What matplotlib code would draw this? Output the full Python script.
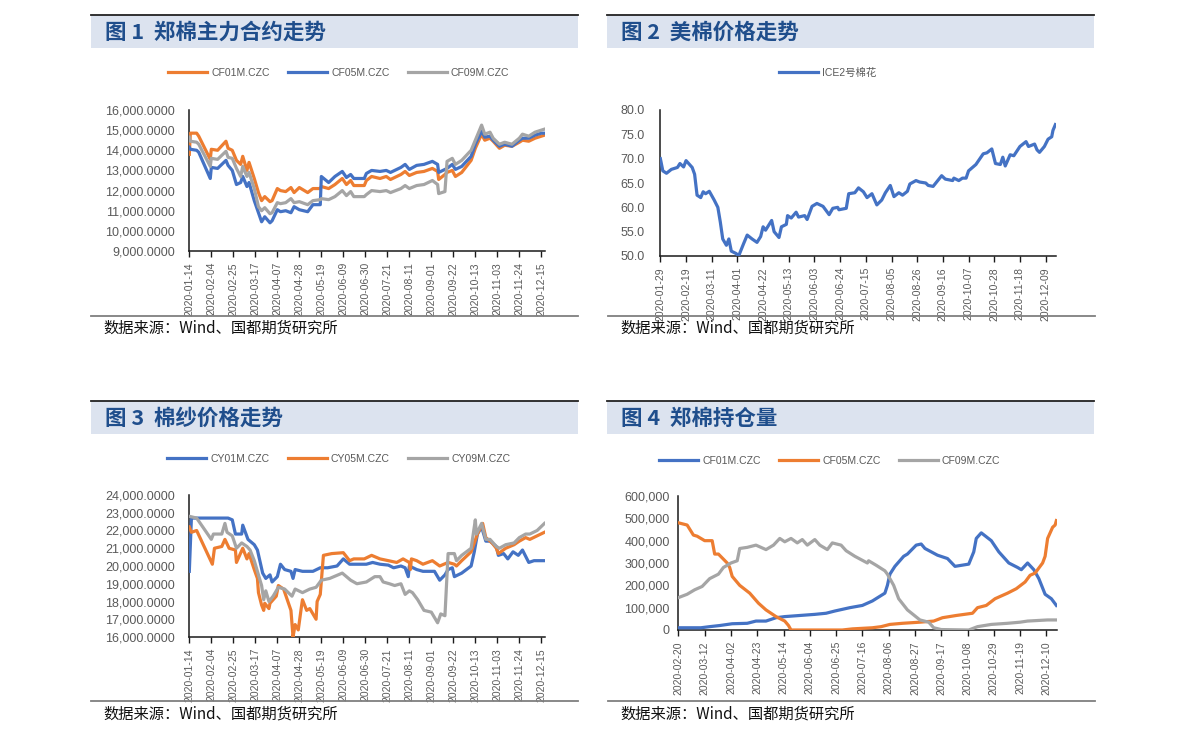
import matplotlib
matplotlib.use("Agg")
import matplotlib.pyplot as plt
import matplotlib.dates as mdates
from matplotlib.patches import Rectangle
from matplotlib.lines import Line2D
from matplotlib.ticker import FuncFormatter, MultipleLocator
import pandas as pd

# ---------------- data ----------------
# 图1 郑棉主力合约 (shared dates)
p1_dates = ["01-14", "01-15", "01-21", "01-23", "02-03", "02-04", "02-10", "02-18", "02-20", "02-24",
            "02-28", "03-03", "03-05", "03-09", "03-11", "03-16", "03-20", "03-23", "03-26", "03-31",
            "04-02", "04-07", "04-10", "04-15", "04-20", "04-23", "04-28", "05-06", "05-11", "05-18",
            "05-19", "05-26", "06-01", "06-08", "06-12", "06-16", "06-19", "06-29", "07-01", "07-06",
            "07-14", "07-20", "07-24", "08-03", "08-07", "08-11", "08-18", "08-25", "09-02", "09-07",
            "09-08", "09-14", "09-16", "09-21", "09-24", "09-30", "10-09", "10-13", "10-19", "10-22",
            "10-27", "10-30", "11-05", "11-10", "11-17", "11-24", "11-27", "12-03", "12-09", "12-15",
            "12-18"]
cf01 = [13800, 14850, 14850, 14700, 13550, 14050, 14000, 14450, 14100, 14000,
        13500, 13300, 13700, 13000, 13400, 12600, 11900, 11500, 11700, 11450,
        11500, 12100, 12000, 11950, 12150, 11900, 12150, 11900, 12100, 12100,
        12200, 12100, 12300, 12600, 12300, 12500, 12250, 12250, 12500, 12700,
        12600, 12700, 12550, 12800, 12950, 12750, 12900, 12950, 13100, 12950,
        12550, 12800, 12900, 13000, 12700, 12900, 13500, 14100, 14800, 14500,
        14600, 14450, 14100, 14250, 14200, 14400, 14500, 14450, 14600, 14700,
        14750]
cf05 = [14150, 14050, 14000, 13900, 12600, 13150, 13100, 13500, 13250, 13000,
        12300, 12400, 12700, 12200, 12400, 11500, 10900, 10450, 10700, 10400,
        10500, 11050, 10950, 11000, 10900, 11200, 11050, 10950, 11300, 11300,
        12700, 12400, 12700, 12950, 12650, 12800, 12600, 12600, 12850, 13000,
        12950, 13000, 12900, 13150, 13300, 13050, 13250, 13300, 13450, 13300,
        12900, 13050, 13100, 13300, 13050, 13200, 13700, 14300, 14950, 14650,
        14700, 14500, 14200, 14300, 14200, 14500, 14600, 14600, 14750, 14850,
        14850]
cf09 = [14650, 14450, 14400, 14300, 13200, 13600, 13550, 13950, 13650, 13600,
        13100, 12700, 13200, 12700, 12900, 12100, 11200, 11000, 11150, 10850,
        10900, 11400, 11350, 11400, 11600, 11400, 11450, 11300, 11500, 11550,
        11600, 11550, 11700, 12000, 11750, 11950, 11700, 11700, 11800, 12000,
        11950, 12000, 11900, 12100, 12250, 12100, 12250, 12300, 12500, 12300,
        11850, 11950, 13450, 13600, 13300, 13500, 14000, 14500, 15250, 14800,
        14900, 14600, 14300, 14400, 14300, 14600, 14800, 14700, 14900, 15000,
        15050]

# 图2 ICE2号棉花
ice_dates = ["01-29", "01-31", "02-03", "02-07", "02-12", "02-14", "02-17", "02-19", "02-24", "02-26",
             "02-28", "03-02", "03-04", "03-06", "03-09", "03-13", "03-16", "03-18", "03-20", "03-23",
             "03-25", "03-27", "03-31", "04-02", "04-06", "04-09", "04-13", "04-17", "04-20", "04-22",
             "04-24", "04-29", "05-01", "05-05", "05-07", "05-11", "05-12", "05-15", "05-19", "05-21",
             "05-26", "05-28", "06-01", "06-05", "06-10", "06-15", "06-18", "06-22", "06-23", "06-29",
             "07-01", "07-06", "07-09", "07-13", "07-16", "07-20", "07-24", "07-28", "07-31", "08-04",
             "08-07", "08-11", "08-14", "08-18", "08-20", "08-25", "08-28", "09-02", "09-04", "09-08",
             "09-15", "09-18", "09-24", "09-25", "09-29", "10-02", "10-05", "10-07", "10-13", "10-19",
             "10-22", "10-26", "10-29", "11-02", "11-04", "11-06", "11-10", "11-13", "11-18", "11-23",
             "11-25", "11-30", "12-02", "12-04", "12-08", "12-11", "12-14", "12-15", "12-17"]
ice_vals = [70.0, 67.5, 67.0, 67.8, 68.2, 69.0, 68.3, 69.6, 68.2, 66.8,
            62.5, 62.0, 63.2, 62.8, 63.3, 61.5, 60.0, 57.0, 53.5, 52.2,
            53.5, 51.0, 50.5, 50.0, 52.5, 54.3, 53.5, 52.8, 54.0, 56.0,
            55.3, 57.3, 55.0, 53.8, 56.0, 56.5, 58.3, 57.8, 59.0, 58.0,
            58.3, 57.5, 60.2, 60.8, 60.2, 58.5, 59.8, 60.0, 59.5, 59.8,
            62.8, 63.0, 64.0, 63.2, 62.0, 62.8, 60.5, 61.5, 63.0, 64.5,
            62.2, 63.0, 62.5, 63.3, 64.8, 65.5, 65.2, 65.0, 64.5, 64.3,
            66.5, 65.8, 65.5, 66.0, 65.5, 66.0, 66.0, 67.5, 68.8, 71.0,
            71.2, 72.0, 69.0, 68.8, 70.3, 68.5, 70.8, 70.6, 72.5, 73.5,
            72.5, 73.0, 71.8, 71.3, 72.5, 74.0, 74.5, 75.8, 77.0]

# 图3 棉纱价格
cy01_dates = ["01-14", "01-16", "02-20", "02-24", "02-27", "03-04", "03-05", "03-10", "03-16", "03-19",
              "03-24", "03-27", "03-31", "04-02", "04-07", "04-10", "04-14", "04-20", "04-22", "04-24",
              "05-01", "05-11", "05-18", "05-25", "06-03", "06-09", "06-15", "06-22", "07-01", "07-07",
              "07-14", "07-22", "07-27", "08-03", "08-07", "08-10", "08-11", "08-18", "08-24", "09-04",
              "09-09", "09-14", "09-17", "09-21", "09-23", "09-30", "10-09", "10-12", "10-15", "10-19",
              "10-23", "10-27", "11-02", "11-04", "11-09", "11-13", "11-18", "11-23", "11-27", "12-03",
              "12-08", "12-18"]
cy01 = [19700, 22700, 22700, 22600, 21800, 21800, 22300, 21500, 21200, 20900,
        19600, 19300, 19500, 19100, 19400, 20100, 19800, 19700, 19300, 19800,
        19700, 19700, 19900, 19900, 20000, 20400, 20100, 20100, 20100, 20200,
        20100, 20050, 19900, 20000, 19900, 19400, 20000, 19800, 19700, 19700,
        19200, 19500, 19800, 19900, 19400, 19600, 20000, 20800, 21800, 22200,
        21400, 21400, 21100, 20600, 20700, 20400, 20800, 20600, 20900, 20200,
        20300, 20300]
cy05_dates = ["01-14", "01-16", "01-21", "02-05", "02-07", "02-14", "02-17", "02-21", "02-27", "02-28",
              "03-02", "03-05", "03-09", "03-11", "03-16", "03-19", "03-20", "03-23", "03-25", "03-26",
              "03-30", "03-31", "04-06", "04-08", "04-13", "04-20", "04-22", "04-24", "04-27", "04-30",
              "05-01", "05-05", "05-08", "05-14", "05-15", "05-18", "05-21", "05-29", "06-09", "06-15",
              "06-19", "06-29", "07-06", "07-14", "07-22", "07-30", "08-05", "08-11", "08-12", "08-13",
              "08-18", "08-24", "09-02", "09-09", "09-17", "09-23", "09-25", "09-30", "10-09", "10-15",
              "10-20", "10-23", "10-29", "11-02", "11-04", "11-11", "11-19", "11-24", "11-30", "12-04",
              "12-11", "12-18"]
cy05 = [22200, 21900, 22000, 20100, 21000, 21100, 21500, 21000, 20900, 20200,
        20600, 21000, 20400, 20700, 19800, 19300, 18500, 17800, 17500, 17900,
        17600, 17900, 18300, 18900, 18700, 17500, 16000, 16700, 16400, 17700,
        18100, 17500, 17600, 17000, 18000, 18400, 20600, 20700, 20750, 20300,
        20400, 20400, 20600, 20400, 20300, 20200, 20400, 20200, 19800, 20400,
        20300, 20100, 20300, 20000, 20200, 20100, 20000, 20300, 20800, 21800,
        22400, 21600, 21300, 21000, 20700, 21000, 21200, 21400, 21600, 21500,
        21700, 21900]
cy09_dates = ["01-14", "01-21", "02-04", "02-06", "02-14", "02-17", "02-19", "02-24", "02-28", "03-04",
              "03-09", "03-12", "03-16", "03-19", "03-23", "03-25", "03-27", "03-30", "04-03", "04-08",
              "04-14", "04-21", "04-24", "05-01", "05-08", "05-14", "05-19", "05-27", "06-08", "06-16",
              "06-22", "07-01", "07-09", "07-14", "07-17", "07-23", "07-28", "08-03", "08-05", "08-07",
              "08-11", "08-14", "08-19", "08-25", "09-01", "09-07", "09-10", "09-14", "09-17", "09-23",
              "09-25", "09-30", "10-09", "10-13", "10-14", "10-19", "10-23", "10-27", "11-02", "11-05",
              "11-11", "11-19", "11-24", "11-30", "12-04", "12-11", "12-18"]
cy09 = [22800, 22700, 21500, 21800, 21800, 22400, 21900, 21700, 21000, 21300,
        21100, 20900, 20300, 19700, 18900, 18100, 18600, 18000, 18300, 18800,
        18700, 18300, 18700, 18500, 18700, 18800, 19200, 19300, 19600, 19200,
        19000, 19100, 19400, 19400, 19100, 19000, 18900, 19000, 18700, 18400,
        18600, 18500, 18100, 17500, 17400, 16800, 17300, 17200, 20700, 20700,
        20300, 20600, 21000, 22600, 21800, 22400, 21500, 21500, 21100, 21000,
        21200, 21300, 21600, 21800, 21800, 22000, 22400]

# 图4 郑棉持仓量
oi01_dates = ["02-20", "03-09", "03-16", "03-24", "04-03", "04-15", "04-22", "04-30", "05-08", "05-15",
              "05-27", "06-08", "06-17", "06-24", "07-06", "07-16", "07-24", "08-03", "08-05", "08-07",
              "08-11", "08-18", "08-21", "08-28", "09-01", "09-04", "09-09", "09-14", "09-22", "09-28",
              "10-09", "10-13", "10-15", "10-19", "10-27", "11-02", "11-10", "11-17", "11-20", "11-25",
              "11-30", "12-04", "12-09", "12-14", "12-18"]
oi01 = [10000, 10000, 15000, 20000, 28000, 30000, 40000, 40000, 55000, 60000,
        65000, 70000, 75000, 85000, 100000, 110000, 130000, 165000, 200000, 250000,
        285000, 330000, 340000, 380000, 385000, 365000, 350000, 335000, 320000, 285000,
        295000, 350000, 410000, 435000, 400000, 350000, 300000, 280000, 270000, 300000,
        270000, 230000, 160000, 140000, 110000]
oi05_dates = ["02-20", "02-27", "03-03", "03-06", "03-12", "03-18", "03-20", "03-23", "03-30", "04-01",
              "04-03", "04-09", "04-17", "04-24", "04-30", "05-08", "05-15", "05-18", "05-20", "06-30",
              "07-08", "07-24", "07-31", "08-07", "08-17", "08-31", "09-11", "09-18", "09-29", "10-12",
              "10-16", "10-23", "10-30", "11-09", "11-16", "11-23", "11-27", "12-01", "12-07", "12-09",
              "12-11", "12-15", "12-17", "12-18"]
oi05 = [480000, 470000, 425000, 420000, 400000, 400000, 340000, 340000, 300000, 280000,
        240000, 200000, 165000, 120000, 90000, 60000, 40000, 20000, 0, 0,
        5000, 10000, 15000, 25000, 30000, 35000, 40000, 55000, 65000, 75000,
        100000, 110000, 140000, 165000, 185000, 215000, 245000, 255000, 300000, 330000,
        410000, 460000, 470000, 490000]
oi09_dates = ["02-20", "02-27", "03-04", "03-10", "03-16", "03-23", "03-27", "04-02", "04-07", "04-09",
              "04-15", "04-22", "04-30", "05-06", "05-11", "05-15", "05-20", "05-25", "05-29", "06-02",
              "06-08", "06-12", "06-18", "06-22", "06-29", "07-03", "07-10", "07-20", "07-21", "07-27",
              "08-03", "08-05", "08-10", "08-14", "08-21", "08-31", "09-07", "09-11", "09-17", "10-09",
              "10-16", "10-27", "11-09", "11-19", "11-25", "12-11", "12-18"]
oi09 = [145000, 160000, 180000, 195000, 230000, 250000, 280000, 300000, 310000, 365000,
        370000, 380000, 360000, 380000, 410000, 395000, 410000, 390000, 405000, 380000,
        405000, 380000, 360000, 390000, 380000, 355000, 330000, 300000, 310000, 290000,
        265000, 250000, 200000, 140000, 90000, 45000, 35000, 10000, 2000, 0,
        15000, 25000, 30000, 35000, 40000, 45000, 45000]

titles = ["图 1  郑棉主力合约走势", "图 2  美棉价格走势", "图 3  棉纱价格走势", "图 4  郑棉持仓量"]
source_text = "数据来源：Wind、国都期货研究所"

# ---------------- style ----------------
ORANGE = "#ED7D31"
BLUE = "#4472C4"
GRAY = "#A5A5A5"
TXT = "#595959"
W, H = 1191, 741
LAT = ["Liberation Sans", "Noto Sans CJK SC", "DejaVu Sans"]
CJK = ["Noto Sans CJK SC", "DejaVu Sans"]

plt.rcParams["font.family"] = LAT
fig = plt.figure(figsize=(W / 100, H / 100), dpi=100)


def to_dt(lst):
    return pd.to_datetime(["2020-" + d for d in lst])


def fx(x):
    return x / W


def fy(y):
    return 1 - y / H


def header(x0, x1, ytop, ybot, title):
    fig.add_artist(Rectangle((fx(x0), fy(ybot)), fx(x1 - x0), (ybot - ytop) / H,
                             transform=fig.transFigure, facecolor="#DCE3EF", edgecolor="none", zorder=0))
    fig.add_artist(Line2D([fx(x0), fx(x1)], [fy(ytop), fy(ytop)], transform=fig.transFigure,
                          color="#222222", lw=1.3))
    fig.text(fx(x0 + 14), fy((ytop + ybot) / 2 + 1), title, family=CJK, fontweight="bold",
             fontsize=15.5, color="#1F4E8C", va="center", ha="left")


def footer(x0, x1, yline, ytext):
    fig.add_artist(Line2D([fx(x0), fx(x1)], [fy(yline), fy(yline)], transform=fig.transFigure,
                          color="#7F7F7F", lw=1.3))
    fig.text(fx(x0 + 12), fy(ytext), source_text, family=CJK, fontsize=11, color="#111111",
             va="center", ha="left")


def make_ax(l, r, t, b):
    return fig.add_axes([fx(l), fy(b), fx(r - l), (b - t) / H])


def style_ax(ax, start, end, ylo, yhi, ystep, yfmt, ypad):
    ax.set_xlim(pd.Timestamp(start) - pd.Timedelta(days=0.3), pd.Timestamp(end) + pd.Timedelta(days=0.5))
    ticks = pd.date_range(start, end, freq="21D")
    ax.set_xticks(ticks)
    ax.xaxis.set_major_formatter(mdates.DateFormatter("%Y-%m-%d"))
    ax.set_ylim(ylo, yhi)
    ax.yaxis.set_major_locator(MultipleLocator(ystep))
    ax.yaxis.set_major_formatter(FuncFormatter(yfmt))
    for s in ["top", "right"]:
        ax.spines[s].set_visible(False)
    for s in ["left", "bottom"]:
        ax.spines[s].set_color("#1a1a1a")
        ax.spines[s].set_linewidth(1.1)
    ax.tick_params(axis="x", direction="out", length=4, width=1.0, color="#1a1a1a",
                   labelsize=7.5, labelcolor=TXT, rotation=90, pad=4)
    ax.tick_params(axis="y", length=0, labelsize=9, labelcolor=TXT, pad=ypad)
    for lab in ax.get_xticklabels():
        lab.set_ha("center")
    ax.set_facecolor("none")


def legend(ax, x, y):
    ax.legend(loc="center", bbox_to_anchor=(x, y), ncol=3, frameon=False,
              handlelength=3.7, columnspacing=1.8, handletextpad=0.4,
              prop={"family": LAT, "size": 7.5}, labelcolor=TXT)


LW = 2.3
fmt4 = lambda v, p: f"{v:,.4f}"

# headers and footers
header(91, 578, 15, 48, titles[0])
header(607, 1094, 15, 48, titles[1])
header(91, 578, 401, 434, titles[2])
header(607, 1094, 401, 434, titles[3])
footer(91, 578, 316, 328)
footer(608, 1095, 316, 328)
footer(91, 578, 701, 714)
footer(608, 1095, 701, 714)

# Panel 1
ax1 = make_ax(189, 545, 110, 251)
d1 = to_dt(p1_dates)
ax1.plot(d1, cf01, color=ORANGE, lw=LW, label="CF01M.CZC", zorder=3)
ax1.plot(d1, cf05, color=BLUE, lw=LW, label="CF05M.CZC", zorder=3)
ax1.plot(d1, cf09, color=GRAY, lw=LW, label="CF09M.CZC", zorder=3)
style_ax(ax1, "2020-01-14", "2020-12-18", 9000, 16000, 1000, fmt4, 10)
legend(ax1, 0.421, 1.262)

# Panel 2
ax2 = make_ax(660, 1056, 110, 256)
ax2.plot(to_dt(ice_dates), ice_vals, color=BLUE, lw=LW, label="ICE2号棉花", zorder=3)
style_ax(ax2, "2020-01-29", "2020-12-17", 50, 80, 5, lambda v, p: f"{v:.1f}", 11)
ax2.set_ylim(50, 80)
legend(ax2, 0.424, 1.253)

# Panel 3
ax3 = make_ax(189, 545, 495, 637)
ax3.plot(to_dt(cy01_dates), cy01, color=BLUE, lw=LW, label="CY01M.CZC", zorder=3)
ax3.plot(to_dt(cy05_dates), cy05, color=ORANGE, lw=LW, label="CY05M.CZC", zorder=3)
ax3.plot(to_dt(cy09_dates), cy09, color=GRAY, lw=LW, label="CY09M.CZC", zorder=3)
style_ax(ax3, "2020-01-14", "2020-12-18", 16000, 24000, 1000, fmt4, 10)
legend(ax3, 0.421, 1.254)

# Panel 4
ax4 = make_ax(678, 1057, 496, 630)
ax4.plot(to_dt(oi01_dates), oi01, color=BLUE, lw=LW, label="CF01M.CZC", zorder=3)
ax4.plot(to_dt(oi05_dates), oi05, color=ORANGE, lw=LW, label="CF05M.CZC", zorder=3)
ax4.plot(to_dt(oi09_dates), oi09, color=GRAY, lw=LW, label="CF09M.CZC", zorder=3)
style_ax(ax4, "2020-02-20", "2020-12-18", 0, 600000, 100000, lambda v, p: f"{v:,.0f}", 6)
legend(ax4, 0.401, 1.261)

fig.savefig("out.png", dpi=100)
